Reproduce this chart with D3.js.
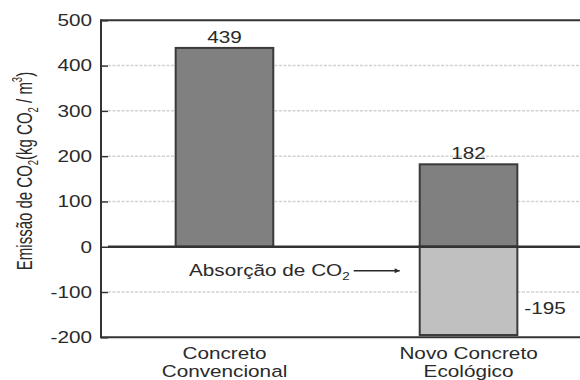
<!DOCTYPE html>
<html><head><meta charset="utf-8">
<script src="https://cdn.jsdelivr.net/npm/d3@7"></script>
<style>
html,body{margin:0;padding:0;background:#fff;}
text{font-family:"Liberation Sans",Arial,sans-serif;fill:#2a2a2a;}
</style></head>
<body><svg id="c" width="580" height="380"></svg>
<script>
const categories = [["Concreto","Convencional"],["Novo Concreto","Ecológico"]];
const emission = [439, 182];
const absorption = [null, -195];
const yTicks = [500, 400, 300, 200, 100, 0, -100, -200];

(function () {
const svg = d3.select("#c");
const SX = 1.22; // horizontal stretch of the original typography
const FS = "17px";
const pLeft = 101, pRight = 580, pTop = 20.3, pBottom = 337.3;

const y = d3.scaleLinear().domain([-200, 500]).range([pBottom, pTop]);
const x = d3.scaleBand().domain([0, 1]).range([100, 593]).paddingInner(0.6).paddingOuter(0.31);

function stext(g, xx, yy, anchor) {
  return g.append("text").attr("transform", `translate(${xx},${yy}) scale(${SX},1)`)
    .attr("text-anchor", anchor).style("font-size", FS);
}

// gridlines
svg.append("g").selectAll("line").data(yTicks.filter(t => t !== 0 && t !== 500 && t !== -200))
  .join("line").attr("x1", pLeft + 7).attr("x2", pRight).attr("y1", d => y(d)).attr("y2", d => y(d))
  .attr("stroke", "#d2d2d2").attr("stroke-width", 1.5).attr("stroke-dasharray", "3,1.5");

// axis with inward ticks
const yAxis = d3.axisLeft(y).tickValues(yTicks).tickSize(-7).tickFormat("");
const ax = svg.append("g").attr("transform", `translate(${pLeft},0)`).call(yAxis);
ax.select(".domain").remove();
ax.selectAll(".tick line").attr("stroke", "#333").attr("stroke-width", 1.5);

// tick labels
yTicks.forEach(t => {
  stext(svg, 92, y(t), "end").attr("dominant-baseline", "central").text(t);
});

// frame
svg.append("line").attr("x1", pLeft).attr("x2", pRight).attr("y1", pTop).attr("y2", pTop).attr("stroke", "#333").attr("stroke-width", 2);
svg.append("line").attr("x1", pLeft).attr("x2", pRight).attr("y1", pBottom).attr("y2", pBottom).attr("stroke", "#333").attr("stroke-width", 2);
svg.append("line").attr("x1", pLeft).attr("x2", pLeft).attr("y1", pTop - 1).attr("y2", pBottom + 1).attr("stroke", "#333").attr("stroke-width", 2);

// emission bars
svg.append("g").selectAll("rect").data(emission).join("rect")
  .attr("x", (d, i) => x(i)).attr("width", x.bandwidth())
  .attr("y", d => y(d)).attr("height", d => y(0) - y(d))
  .attr("fill", "#808080").attr("stroke", "#3a3a3a").attr("stroke-width", 2);

// absorption bars
svg.append("g").selectAll("rect").data(absorption.map((v, i) => ({v, i})).filter(d => d.v !== null)).join("rect")
  .attr("x", d => x(d.i)).attr("width", x.bandwidth())
  .attr("y", y(0)).attr("height", d => y(d.v) - y(0))
  .attr("fill", "#c0c0c0").attr("stroke", "#3a3a3a").attr("stroke-width", 2);

// zero line
svg.append("line").attr("x1", pLeft + 7).attr("x2", pRight).attr("y1", y(0)).attr("y2", y(0))
  .attr("stroke", "#333").attr("stroke-width", 2.5);

// value labels
emission.forEach((v, i) => {
  stext(svg, x(i) + x.bandwidth() / 2, y(v) - 5, "middle").text(v);
});
absorption.forEach((v, i) => {
  if (v === null) return;
  stext(svg, x(i) + x.bandwidth() + 7, y(v) - 21, "start").text(v);
  // annotation
  const bx = x(i);
  const ay = y(-53);
  svg.append("defs").append("marker").attr("id", "ah").attr("viewBox", "0 0 10 10")
    .attr("refX", 10).attr("refY", 5).attr("markerWidth", 7).attr("markerHeight", 5)
    .attr("markerUnits", "userSpaceOnUse").attr("orient", "auto")
    .append("path").attr("d", "M0,0L10,5L0,10Z").attr("fill", "#2a2a2a");
  svg.append("line").attr("x1", bx - 66).attr("x2", bx - 20).attr("y1", ay).attr("y2", ay)
    .attr("stroke", "#2a2a2a").attr("stroke-width", 1.5).attr("marker-end", "url(#ah)");
  const t = stext(svg, bx - 70, ay + 5, "end");
  t.append("tspan").text("Absorção de CO");
  t.append("tspan").attr("dy", 4).style("font-size", "11px").text("2");
});

// category labels
categories.forEach((lines, i) => {
  const cx = x(i) + x.bandwidth() / 2;
  lines.forEach((ln, j) => {
    stext(svg, cx, 359 + j * 17.5, "middle").text(ln);
  });
});

// y-axis title
const yt = svg.append("text").attr("transform", `translate(32,171) scale(1.48,1) rotate(-90)`)
  .attr("text-anchor", "middle").style("font-size", "15px");
yt.append("tspan").text("Emissão de CO");
yt.append("tspan").attr("dy", 4).style("font-size", "9.5px").text("2");
yt.append("tspan").attr("dy", -4).text("(kg CO");
yt.append("tspan").attr("dy", 4).style("font-size", "9.5px").text("2");
yt.append("tspan").attr("dy", -4).text(" / m");
yt.append("tspan").attr("dy", -7).style("font-size", "9.5px").text("3");
yt.append("tspan").attr("dy", 7).text(")");
})();
</script></body></html>
